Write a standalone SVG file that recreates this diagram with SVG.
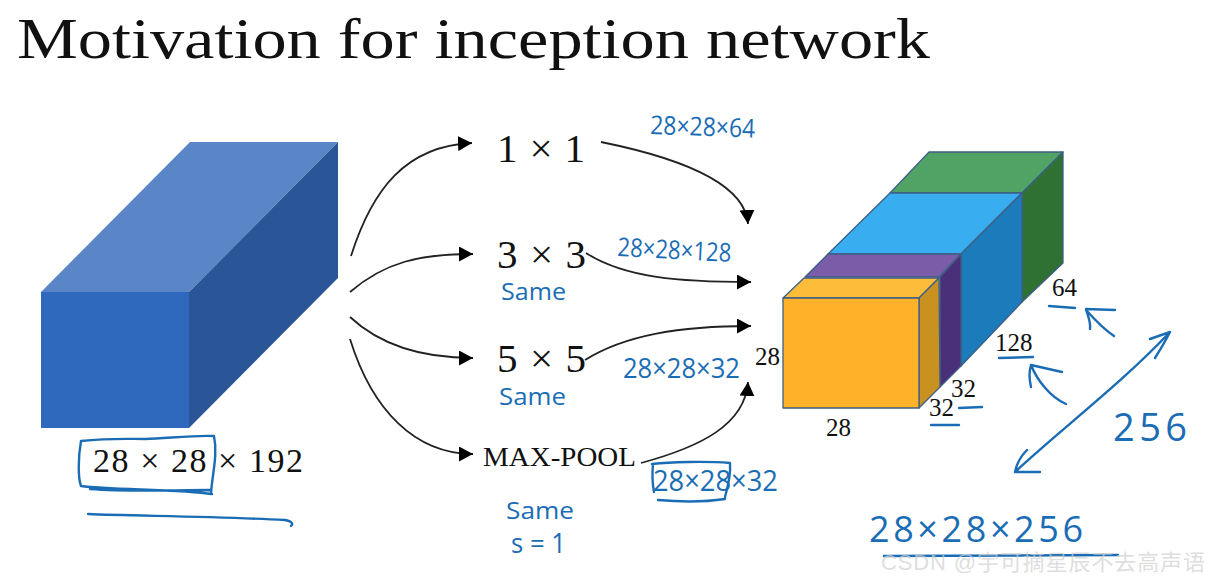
<svg xmlns="http://www.w3.org/2000/svg" width="1219" height="582" viewBox="0 0 1219 582">
<style>
.m{font-family:"Liberation Serif","Times New Roman",serif;fill:#111}
.n{font-size:25px}
.k{font-size:41px}
.h{font-family:"Open Sans","Liberation Sans",sans-serif;font-weight:400;fill:#1a6db5}
.c{fill:none;stroke:#222;stroke-width:1.8}
.b{fill:none;stroke:#1a6db5;stroke-width:2.4;stroke-linecap:round;stroke-linejoin:round}
.e{stroke:#3d5f86;stroke-width:1.3;stroke-linejoin:round}
</style>
<defs>
<marker id="a" markerUnits="userSpaceOnUse" markerWidth="15" markerHeight="15" refX="14" refY="7.5" orient="auto"><path d="M0 0L14 7.5L0 15Z" fill="#000"/></marker>
</defs>
<rect width="1219" height="582" fill="#fff"/>
<text class="m" x="17" y="58" font-size="58" textLength="913" lengthAdjust="spacingAndGlyphs">Motivation for inception network</text>

<g id="input-volume">
<polygon points="41,292 190,142 338,142 189,292" fill="#5a86c8"/>
<polygon points="189,292 338,142 338,278 189,428" fill="#2a5596"/>
<rect x="41" y="292" width="148" height="136" fill="#2f69bd"/>
<text class="m" x="93" y="472" font-size="34" textLength="210" lengthAdjust="spacing">28 × 28 × 192</text>
<path class="b" d="M81 441C78 458 78 478 81 486C110 490 180 489 212 494M81 441C110 438 125 439 145 439C170 438 195 435 214 436C218 455 212 475 211 494M90 489C130 492 170 490 210 490"/>
<path class="b" d="M88 514C130 516 210 516 285 520Q295 522 291 526"/>
</g>

<g id="concat-volume">
<polygon class="e" points="929,152 1063,152 1022,193 890,193" fill="#50a365"/>
<polygon class="e" points="1063,152 1063,263 1022,302 1022,193" fill="#2f7033"/>
<polygon class="e" points="890,193 1022,193 961,254 828,254" fill="#38aef0"/>
<polygon class="e" points="1022,193 1022,302 961,366 961,254" fill="#1c7bbb"/>
<polygon class="e" points="828,254 961,254 939,277 805,277" fill="#7a5ca8"/>
<polygon class="e" points="961,254 961,366 940,387 940,277" fill="#4a3078"/>
<polygon class="e" points="804,278 939,278 919,298 783,298" fill="#fdbc3a"/>
<polygon class="e" points="939,278 940,387 919,408 919,298" fill="#c9911f"/>
<rect class="e" x="783" y="298" width="136" height="110" fill="#feb229"/>
<text class="m n" x="755" y="365">28</text>
<text class="m n" x="826" y="436">28</text>
<text class="m n" x="929" y="416">32</text>
<text class="m n" x="951" y="397">32</text>
<text class="m n" x="995" y="351">128</text>
<text class="m n" x="1052" y="296">64</text>
</g>

<g id="conv-1x1"><text class="m k" x="497" y="162" textLength="88" lengthAdjust="spacing">1 × 1</text></g>
<g id="conv-3x3"><text class="m k" x="497" y="268" textLength="89" lengthAdjust="spacing">3 × 3</text>
<text class="h" x="501" y="300" font-size="24" textLength="65" lengthAdjust="spacingAndGlyphs">Same</text></g>
<g id="conv-5x5"><text class="m k" x="497" y="372" textLength="89" lengthAdjust="spacing">5 × 5</text>
<text class="h" x="499" y="405" font-size="24" textLength="67" lengthAdjust="spacingAndGlyphs">Same</text></g>
<g id="max-pool"><text class="m" x="483" y="466" font-size="27" textLength="153" lengthAdjust="spacingAndGlyphs">MAX-POOL</text>
<text class="h" x="506" y="519" font-size="24" textLength="68" lengthAdjust="spacingAndGlyphs">Same</text>
<text class="h" x="511" y="553" font-size="28" textLength="55" lengthAdjust="spacingAndGlyphs">s = 1</text></g>

<g id="connectors">
<path class="c" marker-end="url(#a)" d="M351 256C372 190 405 146 472 143"/>
<path class="c" marker-end="url(#a)" d="M350 292C385 262 420 254 473 254"/>
<path class="c" marker-end="url(#a)" d="M350 317C380 345 420 358 473 358"/>
<path class="c" marker-end="url(#a)" d="M350 339C372 410 415 454 473 454"/>
<path class="c" marker-end="url(#a)" d="M601 142C670 156 745 180 748 224"/>
<path class="c" marker-end="url(#a)" d="M586 253C625 278 680 282 751 282"/>
<path class="c" marker-end="url(#a)" d="M585 360C625 335 680 326 751 326"/>
<path class="c" marker-end="url(#a)" d="M641 463C700 447 745 425 748 382"/>
</g>

<g id="annotations">
<text class="h" x="650" y="134" font-size="26" textLength="105" lengthAdjust="spacingAndGlyphs" transform="rotate(2 650 134)">28×28×64</text>
<text class="h" x="617" y="256" font-size="26" textLength="114" lengthAdjust="spacingAndGlyphs" transform="rotate(3 617 256)">28×28×128</text>
<text class="h" x="623" y="378" font-size="27" textLength="117" lengthAdjust="spacingAndGlyphs">28×28×32</text>
<text class="h" x="653" y="491" font-size="30" textLength="125" lengthAdjust="spacingAndGlyphs">28×28×32</text>
<path class="b" d="M652 464C670 462 705 461 730 463C731 475 727 490 725 497M653 464C652 475 653 487 654 492M658 500C680 502 705 502 725 499"/>
<path class="b" d="M1049 306L1075 308"/>
<path class="b" d="M1115 310L1086 309C1088 317 1091 322 1090 329M1086 310C1095 320 1105 330 1114 336"/>
<path class="b" d="M999 358L1033 357"/>
<path class="b" d="M1062 372L1031 365C1028 375 1030 382 1031 387M1031 365C1037 380 1050 397 1066 404"/>
<path class="b" d="M959 408L982 407"/>
<path class="b" d="M931 425L959 425"/>
<path class="b" d="M1015 472C1060 430 1120 385 1170 332M1015 472L1040 472M1015 472C1017 462 1022 455 1027 450M1170 332L1150 339M1170 332C1165 342 1160 350 1155 358"/>
<text class="h" x="1113" y="441" font-size="38" textLength="74" lengthAdjust="spacing">256</text>
<text class="h" x="869" y="542" font-size="36" textLength="214" lengthAdjust="spacing">28×28×256</text>
<path class="b" d="M884 556C950 556 1030 556 1118 555"/>
</g>
<text x="881" y="570" font-family="'Liberation Sans','Noto Sans CJK SC',sans-serif" font-size="22" textLength="324" lengthAdjust="spacing" fill="#cfcfcf" fill-opacity="0.7">CSDN @宇可摘星辰不去高声语</text>
</svg>
